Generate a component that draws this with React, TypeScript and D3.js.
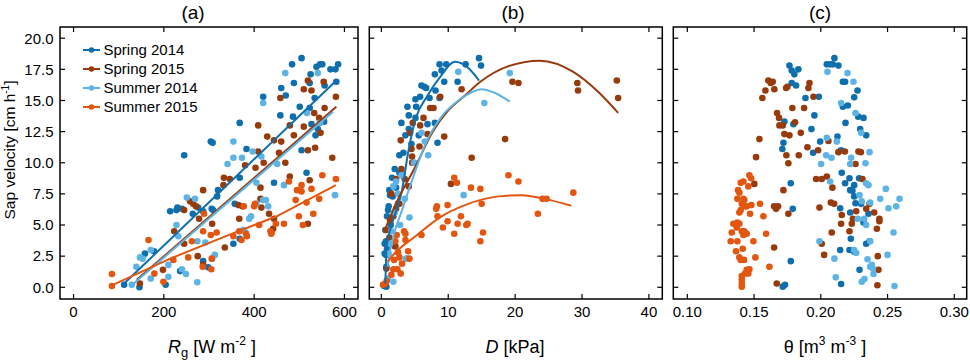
import React from 'react';
import * as d3 from 'd3';

type Pt = [number, number];

const seriesNames = ['Spring 2014', 'Spring 2015', 'Summer 2014', 'Summer 2015'];
const seriesColors = ['#0f6fad', '#983b0c', '#5db4e4', '#e3560f'];

const yTicks = [0, 2.5, 5, 7.5, 10, 12.5, 15, 17.5, 20];
const rgTicks = [0, 200, 400, 600];
const dTicks = [0, 10, 20, 30, 40];
const thetaTicks = [0.1, 0.15, 0.2, 0.25, 0.3];

// (a) sap velocity vs global radiation
const rgSpring14: Pt[] = [[112,0.2],[146,0],[204,0.2],[158,2.7],[178,2.9],[236,1.3],[287,2.1],[298,1.6],[214,6.1],[228,6.2],[230,6.4],[240,6.3],[264,5.9],[276,6.4],[287,6.1],[306,6.3],[309,6.2],[318,7.3],[320,7.8],[354,3.5],[368,3.9],[357,6.7],[368,8.8],[444,8.4],[516,9.2],[245,10.6],[304,11.7],[308,11.6],[368,13.2],[383,11.1],[420,15.3],[458,13.8],[460,16.0],[470,15.4],[484,17.9],[488,16.4],[486,13.7],[501,14.5],[505,18.4],[505,11.0],[523,14.4],[525,17.1],[523,16.4],[527,13.1],[534,15.2],[538,17.7],[541,12.7],[536,12.2],[546,17.9],[551,17.9],[555,13.3],[556,16.2],[569,17.5],[580,17.5],[582,16.5],[586,17.9]];
const rgSpring15: Pt[] = [[147,0.3],[198,1.4],[223,4.5],[245,3.5],[245,6.2],[258,6.9],[265,6.7],[271,6.5],[287,7.8],[278,5.5],[307,5.1],[275,2.5],[287,1.8],[335,3.2],[332,8.2],[346,8.7],[333,8.8],[365,6.6],[367,5.5],[374,6.5],[414,8.0],[414,7.1],[416,6.4],[433,5.9],[444,5.5],[442,4.7],[438,4.4],[479,8.9],[519,5.1],[523,8.6],[380,9.8],[403,9.6],[409,10.9],[421,10.0],[409,13.0],[429,12.1],[444,11.8],[460,11.7],[455,10.8],[469,10.0],[458,15.2],[479,13.0],[488,12.2],[510,15.9],[519,16.6],[527,15.8],[510,12.9],[533,14.0],[544,13.6],[547,12.4],[519,11.0],[535,11.2],[554,16.5],[573,10.4],[581,15.3],[556,14.4]];
const rgSummer14: Pt[] = [[129,0.2],[139,1.65],[153,2.3],[147,2.4],[171,3.0],[171,0.7],[210,1.8],[210,0.85],[240,1.45],[249,1.07],[274,0.4],[228,5.0],[232,4.1],[251,7.2],[269,7.1],[274,3.7],[292,3.6],[313,2.6],[307,2.3],[376,4.6],[381,4.4],[389,5.5],[393,5.7],[405,6.7],[420,7.0],[426,7.0],[431,6.5],[405,8.4],[466,8.2],[579,7.4],[341,9.9],[354,10.4],[373,10.4],[397,10.9],[416,10.5],[451,9.9],[354,11.7],[420,14.8],[469,17.2],[541,17.2],[517,14.0],[546,13.2]];
const rgSummer15: Pt[] = [[85,1.07],[85,0.1],[166,3.8],[179,1.1],[199,0.45],[221,2.2],[254,2.4],[262,3.7],[287,4.5],[286,1.65],[306,2.3],[305,1.45],[289,5.9],[304,4.2],[317,4.4],[354,4.1],[367,4.5],[372,3.8],[382,4.3],[384,4.1],[377,6.5],[400,6.5],[402,6.7],[411,5.0],[436,4.5],[438,4.3],[448,5.1],[466,5.1],[477,8.5],[492,7.0],[495,7.8],[499,5.7],[505,7.7],[505,8.2],[508,5.0],[516,6.8],[527,7.9],[531,5.9],[544,7.1],[551,9.0],[581,8.7]];

const rgFitSpring14: Pt[] = [[112,0.3],[582,16.6]];
const rgFitSpring15: Pt[] = [[140,0.6],[582,14.5]];
const rgFitSummer14: Pt[] = [[125,0.05],[575,14.1]];
const rgFitSummer15: Pt[] = [[81,0.1],[214,2.3],[354,4.35],[450,5.7],[581,8.2]];

// (b) sap velocity vs vapour pressure deficit
const dSpring14: Pt[] = [[14.6,18.4],[14.9,17.8],[12.6,17.9],[8.7,17.9],[9.7,17.9],[9.0,17.4],[8.0,17.1],[9.4,16.5],[11.4,16.5],[6.0,16.2],[6.4,16.1],[6.7,16.0],[8.1,15.8],[5.8,15.3],[5.1,15.1],[7.2,15.2],[8.7,15.2],[3.9,14.5],[5.2,14.5],[4.1,13.8],[5.1,13.6],[3.0,13.2],[6.9,13.1],[8.0,13.2],[4.1,12.7],[3.6,12.2],[5.6,12.2],[8.4,11.6],[2.7,10.6],[3.3,10.8],[2.7,9.2],[3.1,9.0],[1.6,8.8],[1.2,7.8],[1.3,7.4],[1.7,7.3],[1.1,6.5],[1.0,6.2],[0.85,5.7],[0.6,4.6],[0.5,3.5],[0.7,3.7],[0.85,3.1],[0.5,2.7],[0.7,2.6],[0.75,1.65],[0.75,0.05],[0.4,0.1],[2.0,9.5],[1.4,5.0],[2.2,8.0],[4.5,11.5]];
const dSpring15: Pt[] = [[35.2,16.6],[35.4,15.2],[29.3,16.4],[29.4,15.8],[19.6,16.5],[20.5,16.4],[18.5,11.9],[13.5,10.4],[12.0,15.9],[9.4,12.1],[7.3,14.4],[7.8,14.4],[6.3,13.6],[5.8,13.0],[4.7,13.2],[4.3,12.4],[6.9,12.3],[5.7,11.3],[2.9,11.8],[4.6,10.5],[4.6,10.0],[8.8,15.3],[4.5,11.1],[2.2,8.7],[3.5,8.7],[4.1,8.1],[10.4,8.3],[2.2,6.3],[2.5,6.7],[2.7,6.7],[1.8,5.7],[1.3,5.4],[0.7,4.6],[2.1,3.3],[2.0,3.3],[0.75,1.5],[0.35,0.2],[1.5,7.5],[3.0,9.5],[1.2,4.0]];
const dSummer14: Pt[] = [[11.5,17.3],[19.2,17.2],[15.4,14.8],[7.0,10.6],[6.0,12.4],[6.5,11.7],[4.9,10.0],[5.0,10.0],[12.3,7.4],[4.2,5.6],[1.8,8.1],[3.5,7.1],[2.5,7.5],[3.7,2.3],[1.1,2.7],[3.8,2.3],[1.8,0.45],[0.95,0.7],[2.0,6.0],[1.5,4.5],[2.8,5.0],[1.3,3.5],[3.0,9.0],[2.2,8.5]];
const dSummer15: Pt[] = [[19.0,9.0],[20.5,8.5],[10.9,8.8],[11.3,8.4],[13.4,8.0],[14.8,7.9],[28.7,7.6],[23.4,5.9],[24.1,7.1],[24.7,7.1],[15.0,6.7],[9.9,6.6],[8.3,6.5],[8.2,6.3],[8.4,5.7],[9.9,5.3],[9.2,4.8],[11.4,5.1],[11.9,5.7],[12.7,5.0],[12.9,5.1],[10.9,4.3],[15.2,4.4],[14.8,3.7],[6.0,4.2],[3.4,4.5],[3.6,4.3],[2.3,4.2],[4.0,2.9],[4.2,2.3],[2.7,2.4],[3.1,1.9],[1.9,2.2],[1.8,1.45],[2.4,1.45],[2.9,1.1],[0.6,0.3],[0.25,0.2],[2.1,3.7],[3.6,3.8],[1.5,1.0],[0.8,0.5],[2.5,2.8]];

const dFitSpring14: Pt[] = [[0.6,0.3],[0.8,3.3],[1.6,5.1],[3.1,7.8],[4.0,10.8],[5.1,13.5],[6.8,15.3],[8.8,16.9],[11.0,18.1],[13.0,17.6],[14.6,16.6]];
const dFitSpring15: Pt[] = [[0.45,4.5],[2.0,6.5],[5.1,9.7],[7.6,12.4],[10,14.2],[12.5,15.4],[14.8,16.5],[18.7,17.7],[23.7,18.2],[28.7,17.3],[32.6,15.6],[35.4,14.0]];
const dFitSummer14: Pt[] = [[0.95,1.65],[1.2,2.6],[1.8,4.1],[3.1,6.2],[4.6,8.6],[6.6,11.5],[9.0,13.7],[11.8,15.1],[15.0,15.9],[17,15.6],[19.2,14.9]];
const dFitSummer15: Pt[] = [[0.95,2.05],[1.6,2.5],[5.1,4.1],[9.0,5.7],[12.5,6.6],[17.5,7.3],[21.0,7.4],[24.4,7.1],[28.4,6.55]];

// (c) sap velocity vs soil water content
const thSpring14: Pt[] = [[0.2102,18.4],[0.2045,17.9],[0.207,17.9],[0.209,17.9],[0.2132,17.8],[0.1765,17.8],[0.1782,17.4],[0.1802,17.1],[0.1832,17.5],[0.2165,16.5],[0.2182,16.5],[0.1782,16.4],[0.1815,16.2],[0.2275,15.8],[0.1885,15.2],[0.1985,15.3],[0.225,15.25],[0.2165,14.5],[0.2202,14.6],[0.1952,13.8],[0.228,13.7],[0.232,13.6],[0.1727,13.3],[0.1795,13.1],[0.2185,13.2],[0.193,12.7],[0.2295,12.7],[0.234,12.2],[0.2125,12.1],[0.172,11.6],[0.1995,11.7],[0.2152,11.0],[0.1712,11.1],[0.1942,10.8],[0.2157,9.2],[0.2215,8.75],[0.2287,8.75],[0.1775,8.35],[0.2182,8.35],[0.225,8.2],[0.222,7.8],[0.2237,7.75],[0.225,7.3],[0.226,6.75],[0.2302,6.7],[0.2145,6.35],[0.179,6.3],[0.2357,5.9],[0.2225,3.9],[0.2145,3.0],[0.229,1.4],[0.234,3.5],[0.2365,3.7],[0.2215,3.0],[0.225,2.85],[0.1775,2.1],[0.1715,0.05],[0.1732,0.2],[0.2152,0.27],[0.222,6.0],[0.232,5.2]];
const thSpring15: Pt[] = [[0.1607,16.6],[0.1625,16.4],[0.164,16.5],[0.1585,15.8],[0.1562,15.2],[0.1652,15.9],[0.174,16.0],[0.175,16.1],[0.1915,16.4],[0.1907,16.0],[0.1945,15.3],[0.1787,14.4],[0.1875,14.4],[0.1672,14.0],[0.1687,13.6],[0.169,13.0],[0.1715,13.0],[0.1807,13.25],[0.154,11.9],[0.1727,12.3],[0.1765,12.2],[0.185,12.4],[0.19,11.25],[0.198,11.0],[0.2057,11.75],[0.1515,10.45],[0.1742,10.6],[0.1835,10.6],[0.1757,9.96],[0.2132,10.85],[0.218,10.9],[0.2282,10.9],[0.23,10.85],[0.226,9.9],[0.1965,8.7],[0.2007,8.7],[0.2045,8.9],[0.2312,8.7],[0.1502,8.3],[0.172,7.8],[0.165,6.5],[0.1665,6.3],[0.168,6.5],[0.1757,5.9],[0.165,3.2],[0.167,0.3],[0.2087,8.0],[0.199,6.4],[0.2075,6.8],[0.21,6.7],[0.2157,5.8],[0.2152,5.1],[0.2232,5.1],[0.224,5.5],[0.2082,4.4],[0.2215,4.5],[0.2007,3.5],[0.2025,2.6],[0.2365,6.7],[0.234,6.3],[0.2439,5.5],[0.2439,5.3],[0.242,4.7],[0.2427,2.5],[0.2432,1.4],[0.2424,0.16],[0.2265,6.1],[0.24,6.0]];
const thSummer14: Pt[] = [[0.205,17.3],[0.22,17.2],[0.2245,16.5],[0.2152,14.8],[0.226,14.0],[0.2302,12.4],[0.2045,12.0],[0.212,11.7],[0.2227,10.4],[0.204,10.6],[0.208,10.4],[0.2002,9.9],[0.222,9.9],[0.2335,9.96],[0.2365,10.85],[0.207,8.5],[0.234,8.35],[0.2357,8.2],[0.229,7.4],[0.2307,6.9],[0.237,6.8],[0.2445,7.1],[0.2487,7.9],[0.259,7.1],[0.2565,6.5],[0.2507,6.35],[0.2277,5.5],[0.2325,5.5],[0.234,5.0],[0.237,3.7],[0.2545,4.4],[0.199,3.7],[0.225,3.0],[0.2265,2.75],[0.2102,2.3],[0.25,2.6],[0.235,2.25],[0.2382,1.8],[0.237,1.65],[0.239,1.5],[0.2395,1.07],[0.2327,0.67],[0.2307,0.45],[0.2112,0.8],[0.2552,0.1]];
const thSummer15: Pt[] = [[0.1465,9.0],[0.1478,8.75],[0.14,8.4],[0.142,8.5],[0.1457,8.1],[0.138,7.8],[0.139,7.6],[0.1375,7.1],[0.142,7.1],[0.1427,7.0],[0.1408,6.7],[0.1445,6.5],[0.1435,6.5],[0.148,6.6],[0.1545,6.7],[0.14,6.2],[0.139,6.0],[0.147,5.9],[0.157,5.7],[0.1345,5.1],[0.1375,5.2],[0.139,5.1],[0.137,4.8],[0.1333,4.4],[0.1408,4.5],[0.1427,4.5],[0.1445,4.3],[0.142,4.2],[0.159,4.3],[0.1325,3.7],[0.1375,3.7],[0.1495,3.7],[0.1415,3.1],[0.1365,2.9],[0.151,2.4],[0.139,2.4],[0.14,2.2],[0.1425,2.2],[0.1615,1.65],[0.1445,1.4],[0.1465,1.45],[0.1432,1.1],[0.1457,1.1],[0.1408,0.9],[0.1408,0.6],[0.1408,0.3],[0.1408,0.05]];

const FONT = '"Liberation Sans", Arial, sans-serif';
const TOP = 27;
const BOTTOM = 299;
const TICK = 5;

const y = d3.scaleLinear().domain([-0.94, 20.9]).range([BOTTOM, TOP]);

interface PanelProps {
  left: number;
  right: number;
  xDomain: [number, number];
  xTicks: number[];
  fmt: (v: number) => string;
  points: Pt[][];
  fits: Pt[][];
  smooth: boolean;
  title: string;
  titleX: number;
  showYLabels: boolean;
}

const Panel: React.FC<PanelProps> = ({ left, right, xDomain, xTicks, fmt, points, fits, smooth, title, titleX, showYLabels }) => {
  const x = d3.scaleLinear().domain(xDomain).range([left, right]);
  const line = d3.line<Pt>()
    .x(d => x(d[0]))
    .y(d => y(d[1]))
    .curve(smooth ? d3.curveMonotoneX : d3.curveLinear);

  return (
    <g>
      <text x={titleX} y={19} fontSize={19} textAnchor="middle" fontFamily={FONT}>{title}</text>
      {points.map((pts, si) => (
        <g key={si} fill={seriesColors[si]}>
          {pts.map((d, i) => <circle key={i} cx={x(d[0])} cy={y(d[1])} r={3.3} />)}
        </g>
      ))}
      {fits.map((f, si) => (
        <path key={si} d={line(f) || ''} fill="none" stroke={seriesColors[si]} strokeWidth={2} />
      ))}
      <rect x={left} y={TOP} width={right - left} height={BOTTOM - TOP} fill="none" stroke="#000" strokeWidth={1.5} />
      {xTicks.map(t => (
        <g key={t}>
          <line x1={x(t)} x2={x(t)} y1={BOTTOM} y2={BOTTOM - TICK} stroke="#000" strokeWidth={1.2} />
          <line x1={x(t)} x2={x(t)} y1={TOP} y2={TOP + TICK} stroke="#000" strokeWidth={1.2} />
          <text x={x(t)} y={316.5} fontSize={15} textAnchor="middle" fontFamily={FONT}>{fmt(t)}</text>
        </g>
      ))}
      {yTicks.map(t => (
        <g key={t}>
          <line x1={left} x2={left + TICK} y1={y(t)} y2={y(t)} stroke="#000" strokeWidth={1.2} />
          <line x1={right} x2={right - TICK} y1={y(t)} y2={y(t)} stroke="#000" strokeWidth={1.2} />
          {showYLabels && (
            <text x={left - 6.5} y={y(t) + 5.3} fontSize={15} textAnchor="end" fontFamily={FONT}>{t.toFixed(1)}</text>
          )}
        </g>
      ))}
    </g>
  );
};

const App: React.FC = () => {
  const legendY = [50, 69, 88, 107];
  return (
    <svg width={970} height={360} style={{ position: 'absolute', left: 0, top: 0, background: '#fff' }}>
      <Panel
        left={60} right={358} xDomain={[-30, 630]} xTicks={rgTicks} fmt={d3.format('d')}
        points={[rgSpring14, rgSpring15, rgSummer14, rgSummer15]}
        fits={[rgFitSpring14, rgFitSpring15, rgFitSummer14, rgFitSummer15]}
        smooth={false} title="(a)" titleX={193} showYLabels
      />
      <Panel
        left={369.3} right={662.3} xDomain={[-1.8, 42]} xTicks={dTicks} fmt={d3.format('d')}
        points={[dSpring14, dSpring15, dSummer14, dSummer15]}
        fits={[dFitSpring14, dFitSpring15, dFitSummer14, dFitSummer15]}
        smooth title="(b)" titleX={513} showYLabels={false}
      />
      <Panel
        left={673.3} right={966.7} xDomain={[0.0895, 0.3093]} xTicks={thetaTicks} fmt={d3.format('.2f')}
        points={[thSpring14, thSpring15, thSummer14, thSummer15]}
        fits={[]}
        smooth title="(c)" titleX={820} showYLabels={false}
      />

      {/* legend */}
      {seriesNames.map((name, i) => (
        <g key={name}>
          <line x1={83} x2={100} y1={legendY[i]} y2={legendY[i]} stroke={seriesColors[i]} strokeWidth={2} />
          <circle cx={91.5} cy={legendY[i]} r={2.8} fill={seriesColors[i]} />
          <text x={103.5} y={legendY[i] + 5.3} fontSize={15} fontFamily={FONT}>{name}</text>
        </g>
      ))}

      {/* axis titles */}
      <text transform="translate(15,150) rotate(-90)" fontSize={15.5} textAnchor="middle" fontFamily={FONT}>
        Sap velocity [cm h<tspan dy={-6} fontSize={10}>-1</tspan><tspan dy={6}>]</tspan>
      </text>
      <text x={212} y={353} fontSize={18} textAnchor="middle" fontFamily={FONT}>
        <tspan fontStyle="italic">R</tspan><tspan dy={4} fontSize={13}>g</tspan><tspan dy={-4}> [W m</tspan><tspan dy={-8} fontSize={12}>-2</tspan><tspan dy={8}> ]</tspan>
      </text>
      <text x={515} y={353} fontSize={18} textAnchor="middle" fontFamily={FONT}>
        <tspan fontStyle="italic">D</tspan> [kPa]
      </text>
      <text x={825} y={353} fontSize={18} textAnchor="middle" fontFamily={FONT}>
        θ [m<tspan dy={-8} fontSize={12}>3</tspan><tspan dy={8}> m</tspan><tspan dy={-8} fontSize={12}>-3</tspan><tspan dy={8}> ]</tspan>
      </text>
    </svg>
  );
};

export default App;
